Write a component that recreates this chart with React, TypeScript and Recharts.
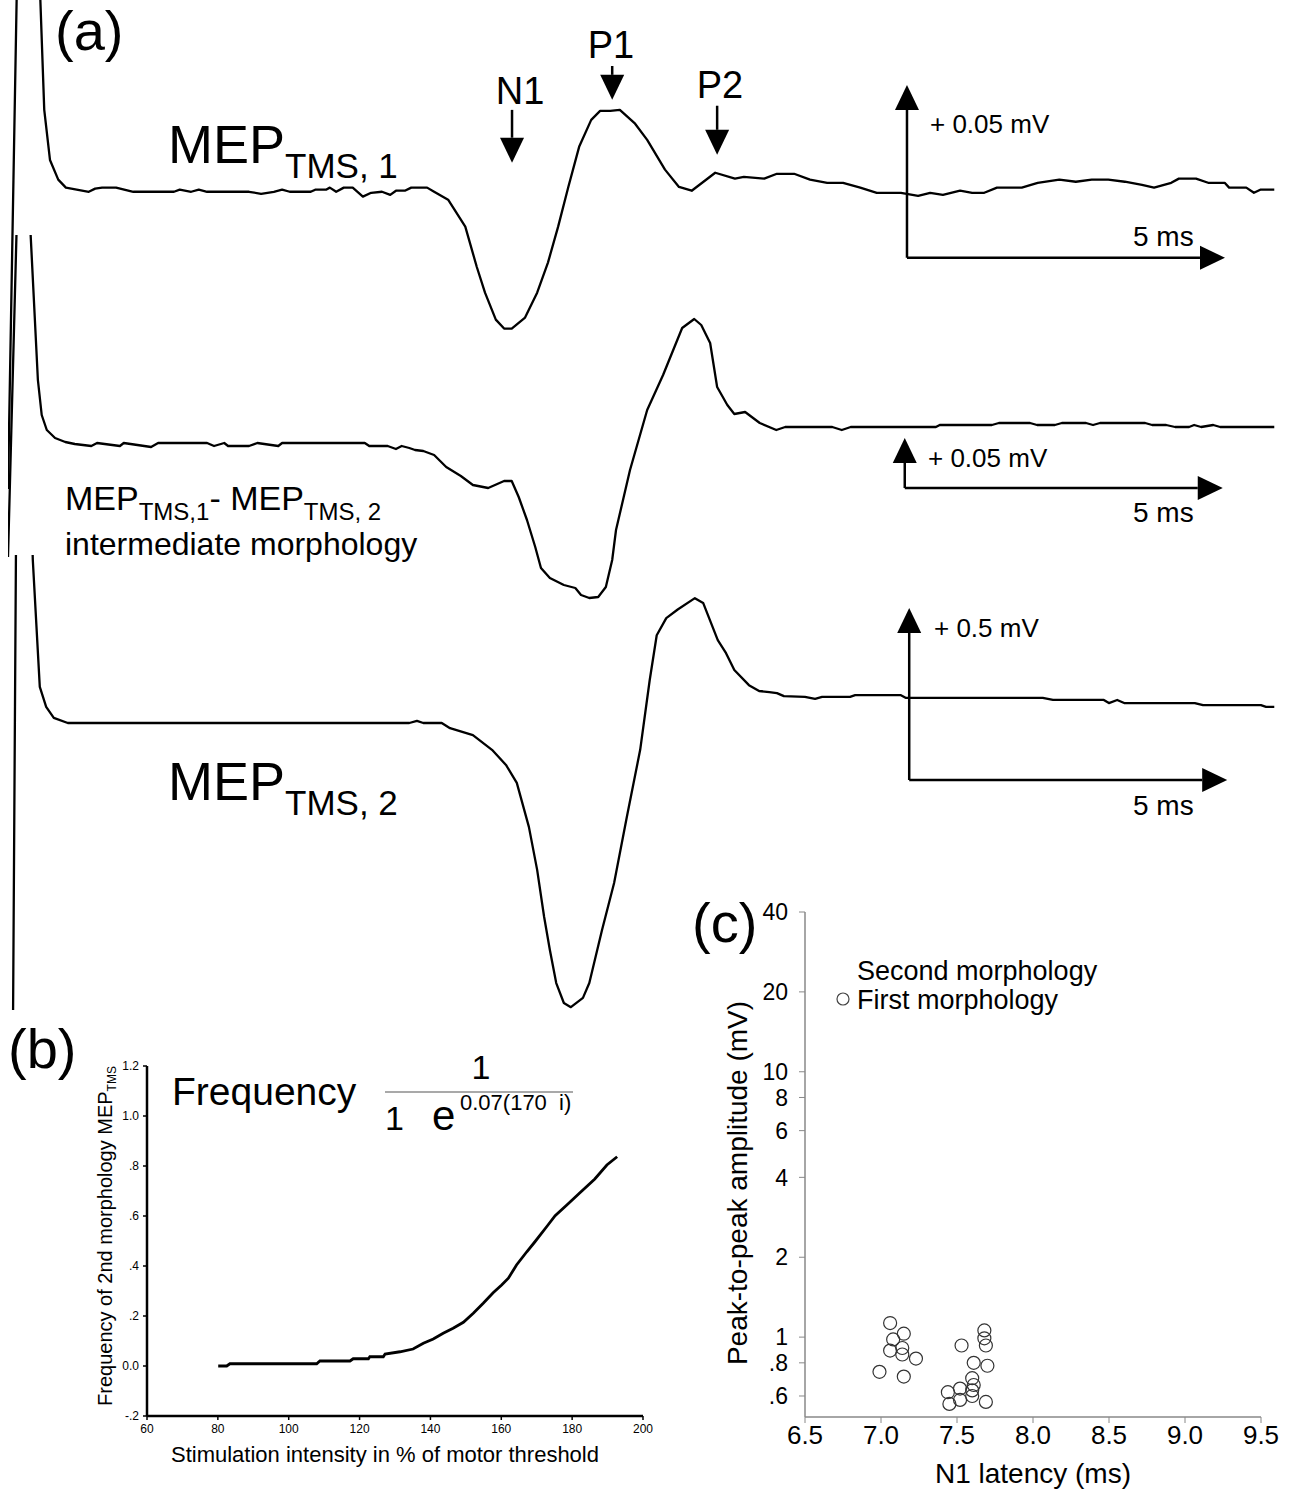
import { LineChart, Line, XAxis, YAxis, ReferenceLine, ScatterChart, Scatter } from 'recharts';

const FONT = "'Liberation Sans', Arial, Helvetica, sans-serif";

// (a) MEP traces, [time in ms, amplitude in µV]
const mep1: [number, number][] = [
  [0, -86], [0.14, 60], [0.3, 150], [0.5, 60], [0.57, 23.7], [0.66, 9.2], [0.79, 3.5], [0.91, 1.2],
  [1.27, 0], [1.37, 0.9], [1.48, 1.2], [1.7, 1.2], [1.97, 0], [2.61, 0], [2.7, 0.6], [2.88, 0],
  [3.0, 0.6], [3.13, 0], [3.79, 0], [3.98, -0.6], [4.18, 0], [4.31, 0.6], [4.43, 0], [4.76, 0],
  [4.83, 0.6], [5.0, 0.6], [5.06, 1.2], [5.16, 0], [5.28, 1.2], [5.42, 1.2], [5.58, -1.4], [5.71, -0.3],
  [5.88, 0], [6.01, -0.9], [6.1, 0.3], [6.24, 0.3], [6.34, 1.2], [6.59, 1.2], [6.7, 0], [6.92, -2.3],
  [7.19, -10.1], [7.37, -21.7], [7.5, -29.2], [7.67, -37], [7.8, -39.6], [7.92, -39.6], [8.13, -36.4],
  [8.32, -29.2], [8.49, -20.5], [8.65, -10.1], [8.81, 1.4], [8.98, 13], [9.17, 20.8], [9.31, 23.4],
  [9.47, 23.4], [9.62, 23.7], [9.86, 19.7], [10.05, 15], [10.33, 6.4], [10.55, 1.4], [10.75, 0.3],
  [11.12, 5.5], [11.43, 3.8], [11.57, 4.3], [11.89, 3.8], [12.09, 5.2], [12.36, 5.2], [12.61, 3.5],
  [12.88, 2.6], [13.13, 2.6], [13.4, 1.2], [13.66, -0.3], [14.04, -0.3], [14.31, -1.2], [14.5, -0.3],
  [14.7, -0.9], [14.97, 0.3], [15.16, -0.3], [15.35, -0.3], [15.55, 1.2], [15.94, 1.2], [16.19, 2.6],
  [16.53, 3.5], [16.79, 2.9], [17.04, 3.5], [17.3, 3.5], [17.56, 2.9], [17.83, 2.0], [18.02, 1.2],
  [18.29, 2.6], [18.41, 3.8], [18.68, 3.8], [18.87, 2.6], [19.13, 2.6], [19.2, 1.2], [19.47, 1.2],
  [19.59, -0.3], [19.69, 0.6], [19.91, 0.6],
];

const mepMixed: [number, number][] = [
  [0, -112], [0.16, 275], [0.25, 345], [0.47, 65], [0.53, 30], [0.61, 15], [0.74, 7], [0.9, 3],
  [1.05, 1], [1.31, -1], [1.4, 2], [1.76, -1], [1.82, 2], [2.25, -2], [2.36, 2], [3.13, 2], [3.24, -1],
  [3.4, 2], [3.46, -1], [3.79, -1], [3.92, 2], [4.25, -1], [4.31, 2], [5.61, 2], [5.68, -1], [5.97, -1],
  [6.1, -4], [6.19, -1], [6.31, -3], [6.4, -5], [6.53, -6], [6.7, -10], [6.89, -22], [7.12, -31],
  [7.31, -40], [7.47, -42], [7.55, -43], [7.8, -36], [7.92, -36], [8.03, -52], [8.16, -75], [8.29, -102],
  [8.38, -123], [8.52, -133], [8.74, -140], [8.92, -143], [9.01, -150], [9.14, -153], [9.28, -152],
  [9.4, -142], [9.5, -115], [9.56, -85], [9.78, -25], [10.05, 35], [10.3, 70], [10.6, 117], [10.79, 126],
  [10.9, 120], [11.04, 102], [11.15, 58], [11.31, 40], [11.42, 31], [11.59, 33], [11.82, 22], [12.08, 15],
  [12.22, 18], [12.96, 18], [13.11, 15], [13.25, 18], [14.59, 18], [14.65, 20], [15.47, 20], [15.58, 22],
  [16.07, 22], [16.18, 20], [16.46, 20], [16.57, 22], [16.95, 22], [17.06, 20], [17.17, 22], [17.88, 22],
  [17.99, 20], [18.21, 20], [18.35, 18], [18.57, 18], [18.65, 20], [18.76, 18], [18.95, 20], [19.06, 18],
  [19.91, 18],
];

const mep2: [number, number][] = [
  [0.08, -834], [0.14, 939], [0.28, 1230], [0.39, 474], [0.5, 105], [0.6, 47], [0.72, 15], [0.94, 0],
  [6.31, 0], [6.43, 6], [6.53, 0], [6.82, 0], [6.95, -15], [7.31, -35], [7.61, -78], [7.83, -122],
  [8.0, -174], [8.19, -302], [8.32, -427], [8.43, -564], [8.52, -660], [8.62, -756], [8.74, -814],
  [8.85, -826], [9.04, -799], [9.14, -756], [9.34, -602], [9.53, -465], [9.73, -273], [9.94, -78],
  [10.09, 125], [10.2, 255], [10.35, 305], [10.53, 330], [10.8, 363], [10.93, 349], [11.16, 241], [11.29, 203],
  [11.42, 154], [11.65, 110], [11.81, 93], [11.97, 90], [12.09, 87], [12.2, 78], [12.53, 76], [12.69, 70],
  [12.8, 76], [13.24, 76], [13.32, 81], [14.04, 81], [14.12, 73], [16.27, 73], [16.43, 67], [17.23, 67],
  [17.31, 58], [17.44, 67], [17.55, 58], [18.66, 58], [18.79, 52], [19.7, 52], [19.78, 47], [19.91, 47],
];

// scale bars: origin (ms, µV) and the vertical step in µV; every bar is 5 ms long
const bar1 = { t: 14.135, v: -19.1, dv: 50 };
const bar2 = { t: 14.1, v: -43, dv: 50 };
const bar3 = { t: 14.17, v: -165.7, dv: 500 };
const barMs = 5;

// component markers on the first trace (time, arrow start, arrow tip in µV)
const peakNames = ['N1', 'P1', 'P2'];
const peakTimes = [7.925, 9.5, 11.15];
const peakFrom = [23.7, 36.4, 24.9];
const peakTo = [8.4, 26.6, 10.7];

// (b) logistic fit
const intensity = [80.1, 82.5, 83.4, 107.9, 108.8, 117.3, 118.2, 122.5, 122.9, 126.7, 127.2, 131.4, 135.1, 138.0, 140.8, 143.6, 146.4, 149.3, 152.1, 154.9, 157.7, 160.1, 162.0, 164.3, 167.2, 169.5, 172.8, 175.2, 178.5, 182.2, 186.4, 189.8, 192.7];
const frequency = [0, 0, 0.009, 0.009, 0.02, 0.02, 0.029, 0.029, 0.037, 0.037, 0.048, 0.057, 0.068, 0.091, 0.108, 0.131, 0.151, 0.175, 0.211, 0.251, 0.293, 0.324, 0.351, 0.404, 0.457, 0.497, 0.557, 0.601, 0.644, 0.693, 0.748, 0.804, 0.837];
const intensityTicks = [60, 80, 100, 120, 140, 160, 180, 200];
const freqTicks = [-0.2, 0, 0.2, 0.4, 0.6, 0.8, 1.0, 1.2];

// (c) N1 latency vs amplitude
const latency = [7.06, 7.15, 7.08, 7.14, 7.06, 7.14, 7.23, 6.99, 7.15, 7.53, 7.68, 7.68, 7.69, 7.61, 7.7, 7.6, 7.61, 7.6, 7.52, 7.44, 7.45, 7.52, 7.69, 7.6];
const amplitude = [1.13, 1.03, 0.98, 0.91, 0.89, 0.86, 0.83, 0.74, 0.71, 0.93, 1.06, 0.99, 0.93, 0.8, 0.78, 0.7, 0.66, 0.63, 0.64, 0.62, 0.56, 0.58, 0.57, 0.6];
const latencyTicks = [6.5, 7, 7.5, 8, 8.5, 9, 9.5];
const ampTicks = [0.6, 0.8, 1, 2, 4, 6, 8, 10, 20, 40];

function Arrow(props: any) {
  const { x1, y1, x2, y2 } = props;
  const head = 25;
  const half = 12;
  const dx = x2 - x1;
  const dy = y2 - y1;
  const len = Math.hypot(dx, dy) || 1;
  const ux = dx / len;
  const uy = dy / len;
  const bx = x2 - ux * head;
  const by = y2 - uy * head;
  const px = -uy * half;
  const py = ux * half;
  return (
    <g>
      <line x1={x1} y1={y1} x2={bx} y2={by} stroke="#000" strokeWidth={2.5} />
      <polygon points={`${x2},${y2} ${bx + px},${by + py} ${bx - px},${by - py}`} fill="#000" />
    </g>
  );
}

function Ring(props: any) {
  const { cx, cy } = props;
  return <circle cx={cx} cy={cy} r={6.5} fill="none" stroke="#333" strokeWidth={1.2} />;
}

interface TraceProps {
  data: [number, number][];
  top: number;
  height: number;
  domain: [number, number];
  bar: { t: number; v: number; dv: number };
  markers?: boolean;
}

function Trace({ data, top, height, domain, bar, markers }: TraceProps) {
  const rows = data.map(([t, v]) => ({ t, v }));
  return (
    <div style={{ position: 'absolute', left: 8, top, width: 1272, height }}>
      <LineChart width={1272} height={height} data={rows} margin={{ top: 0, right: 0, bottom: 0, left: 0 }}>
        <XAxis dataKey="t" type="number" domain={[0, 20]} hide allowDataOverflow />
        <YAxis type="number" domain={domain} hide allowDataOverflow />
        <Line dataKey="v" type="linear" stroke="#000" strokeWidth={2.3} strokeLinejoin="round" dot={false} activeDot={false} isAnimationActive={false} />
        <ReferenceLine segment={[{ x: bar.t, y: bar.v }, { x: bar.t, y: bar.v + bar.dv }]} shape={Arrow} />
        <ReferenceLine segment={[{ x: bar.t, y: bar.v }, { x: bar.t + barMs, y: bar.v }]} shape={Arrow} />
        {markers &&
          peakNames.map((name, i) => (
            <ReferenceLine key={name} segment={[{ x: peakTimes[i], y: peakFrom[i] }, { x: peakTimes[i], y: peakTo[i] }]} shape={Arrow} />
          ))}
      </LineChart>
    </div>
  );
}

function Overlay() {
  return (
    <svg width={1297} height={1490} style={{ position: 'absolute', left: 0, top: 0, pointerEvents: 'none' }} fontFamily={FONT} fill="#000">
      {/* (a) */}
      <text x={55} y={50} fontSize={56}>(a)</text>
      <text x={168} y={163} fontSize={54}>
        MEP<tspan fontSize={35} dy={15}>TMS, 1</tspan>
      </text>
      <text x={65} y={510} fontSize={34}>
        MEP<tspan fontSize={24} dy={10}>TMS,1</tspan>
        <tspan dy={-10}>- MEP</tspan>
        <tspan fontSize={24} dy={10}>TMS, 2</tspan>
      </text>
      <text x={65} y={555} fontSize={32}>intermediate morphology</text>
      <text x={168} y={800} fontSize={54}>
        MEP<tspan fontSize={35} dy={15}>TMS, 2</tspan>
      </text>
      <text x={520} y={104} fontSize={38} textAnchor="middle">N1</text>
      <text x={611} y={58} fontSize={38} textAnchor="middle">P1</text>
      <text x={720} y={98} fontSize={38} textAnchor="middle">P2</text>
      <text x={930} y={133} fontSize={26}>+ 0.05 mV</text>
      <text x={1133} y={246} fontSize={28}>5 ms</text>
      <text x={928} y={467} fontSize={26}>+ 0.05 mV</text>
      <text x={1133} y={522} fontSize={28}>5 ms</text>
      <text x={934} y={637} fontSize={26}>+ 0.5 mV</text>
      <text x={1133} y={815} fontSize={28}>5 ms</text>

      {/* (b) */}
      <text x={8} y={1068} fontSize={56}>(b)</text>
      <text x={172} y={1105} fontSize={39}>Frequency</text>
      <text x={481} y={1079} fontSize={34} textAnchor="middle">1</text>
      <line x1={385} y1={1092} x2={573} y2={1092} stroke="#555" strokeWidth={1.2} />
      <text x={385} y={1130} fontSize={34}>1</text>
      <text x={432} y={1130} fontSize={42}>e</text>
      <text x={460} y={1110} fontSize={22} style={{ whiteSpace: 'pre' }}>0.07(170  i)</text>
      <text x={112} y={1236} fontSize={20} textAnchor="middle" transform="rotate(-90 112 1236)">
        Frequency of 2nd morphology MEP<tspan fontSize={12} dy={4}>TMS</tspan>
      </text>

      {/* (c) */}
      <text x={692} y={942} fontSize={56}>(c)</text>
      <text x={857} y={980} fontSize={27}>Second morphology</text>
      <circle cx={843} cy={999} r={6} fill="none" stroke="#444" strokeWidth={1.2} />
      <text x={857} y={1009} fontSize={27}>First morphology</text>
      <text x={747} y={1183} fontSize={28} textAnchor="middle" transform="rotate(-90 747 1183)">
        Peak-to-peak amplitude (mV)
      </text>
    </svg>
  );
}

export default function App() {
  const freqRows = intensity.map((s, i) => ({ s, f: frequency[i] }));
  const scatterRows = latency.map((lat, i) => ({ lat, amp: amplitude[i] }));
  const freqFmt = (v: number) => (v === 0 ? '0.0' : Math.abs(v) >= 1 ? v.toFixed(1) : v.toFixed(1).replace('0.', '.'));
  const ampFmt = (v: number) => (v < 1 ? v.toFixed(1).replace('0.', '.') : String(v));

  return (
    <div style={{ position: 'absolute', left: 0, top: 0, width: 1297, height: 1490, background: '#fff', overflow: 'hidden', fontFamily: FONT }}>
      <Trace data={mep1} top={0} height={520} domain={[-95, 55.5]} bar={bar1} markers />
      <Trace data={mepMixed} top={235} height={425} domain={[-215, 210]} bar={bar2} />
      <Trace data={mep2} top={555} height={465} domain={[-863.4, 488.4]} bar={bar3} />

      <div style={{ position: 'absolute', left: 0, top: 1040, width: 660, height: 450 }}>
        <LineChart width={660} height={450} data={freqRows} margin={{ top: 26, right: 17, bottom: 26, left: 87 }}>
          <XAxis
            dataKey="s"
            type="number"
            domain={[60, 200]}
            ticks={intensityTicks}
            interval={0}
            allowDataOverflow
            axisLine={{ stroke: '#000', strokeWidth: 2.5 }}
            tickLine={{ stroke: '#000', strokeWidth: 1.5 }}
            tickSize={4}
            tickMargin={4}
            height={48}
            tick={{ fill: '#000', fontSize: 12 }}
            label={{ value: 'Stimulation intensity in % of motor threshold', position: 'insideBottom', offset: 2, fill: '#000', fontSize: 22, dx: -10 }}
          />
          <YAxis
            type="number"
            domain={[-0.2, 1.2]}
            ticks={freqTicks}
            interval={0}
            allowDataOverflow
            axisLine={{ stroke: '#000', strokeWidth: 2.5 }}
            tickLine={{ stroke: '#000', strokeWidth: 1.5 }}
            tickSize={4}
            tickMargin={4}
            width={60}
            tickFormatter={freqFmt}
            tick={{ fill: '#000', fontSize: 12 }}
          />
          <Line dataKey="f" type="linear" stroke="#000" strokeWidth={2.8} dot={false} activeDot={false} isAnimationActive={false} />
        </LineChart>
      </div>

      <div style={{ position: 'absolute', left: 690, top: 890, width: 607, height: 600 }}>
        <ScatterChart width={607} height={600} margin={{ top: 22, right: 36, bottom: 5, left: 45 }}>
          <XAxis
            dataKey="lat"
            type="number"
            domain={[6.5, 9.5]}
            ticks={latencyTicks}
            interval={0}
            allowDataOverflow
            tickFormatter={(v: number) => v.toFixed(1)}
            axisLine={{ stroke: '#888', strokeWidth: 1.5 }}
            tickLine={{ stroke: '#888', strokeWidth: 1 }}
            tickSize={6}
            tickMargin={3}
            height={68}
            tick={{ fill: '#000', fontSize: 26 }}
            label={{ value: 'N1 latency (ms)', position: 'insideBottom', offset: 2, fill: '#000', fontSize: 28 }}
          />
          <YAxis
            dataKey="amp"
            type="number"
            scale="log"
            domain={[0.5, 40]}
            ticks={ampTicks}
            interval={0}
            allowDataOverflow
            tickFormatter={ampFmt}
            axisLine={{ stroke: '#888', strokeWidth: 1.5 }}
            tickLine={{ stroke: '#888', strokeWidth: 1 }}
            tickSize={6}
            tickMargin={11}
            width={70}
            tick={{ fill: '#000', fontSize: 23 }}
          />
          <Scatter name="First morphology" data={scatterRows} shape={Ring} isAnimationActive={false} />
        </ScatterChart>
      </div>

      <Overlay />
    </div>
  );
}
